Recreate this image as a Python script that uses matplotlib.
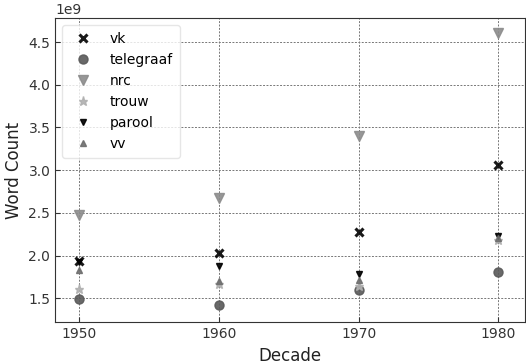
import matplotlib
matplotlib.use("Agg")
import matplotlib.pyplot as plt

decades = [1950, 1960, 1970, 1980]
vk = [1.94e9, 2.03e9, 2.28e9, 3.06e9]
telegraaf = [1.49e9, 1.42e9, 1.60e9, 1.81e9]
nrc = [2.47e9, 2.67e9, 3.40e9, 4.60e9]
trouw = [1.61e9, 1.67e9, 1.64e9, 2.18e9]
parool = [1.92e9, 1.88e9, 1.78e9, 2.23e9]
vv = [1.83e9, 1.70e9, 1.71e9, 2.20e9]

series = [
    ("vk", vk, "x", "black", 6, 2.2),
    ("telegraaf", telegraaf, "o", "#595959", 6.5, 1.0),
    ("nrc", nrc, "v", "#8c8c8c", 6.5, 1.0),
    ("trouw", trouw, "*", "#b0b0b0", 6.5, 1.0),
    ("parool", parool, "v", "black", 5, 1.0),
    ("vv", vv, "^", "#6e6e6e", 4.5, 1.0),
]

fig, ax = plt.subplots(figsize=(5.26, 3.62), dpi=100)
for name, vals, m, c, ms, mew in series:
    ax.plot(decades, vals, linestyle="none", marker=m, color=c, markersize=ms,
            markeredgewidth=mew, alpha=0.9, label=name)

ax.set_xlim(1948.3, 1981.9)
ax.set_ylim(1.22e9, 4.78e9)
ax.set_xticks(decades)
ax.set_yticks([1.5e9, 2.0e9, 2.5e9, 3.0e9, 3.5e9, 4.0e9, 4.5e9])
ax.tick_params(direction="in", labelsize=10, colors="#333333")
ax.grid(True, color="#777777", linestyle="--", linewidth=0.7, dashes=(2, 1.5))
ax.set_axisbelow(True)
ax.set_xlabel("Decade", fontsize=12, color="#222222")
ax.set_ylabel("Word Count", fontsize=12, color="#222222")
for s in ax.spines.values():
    s.set_color("#333333")
ax.legend(loc="upper left", fontsize=10, framealpha=0.8, edgecolor="#e0e0e0",
          handletextpad=0.9, borderpad=0.5)
fig.subplots_adjust(left=0.105, right=0.998, top=0.95, bottom=0.11)
fig.savefig("out.png", dpi=100)
